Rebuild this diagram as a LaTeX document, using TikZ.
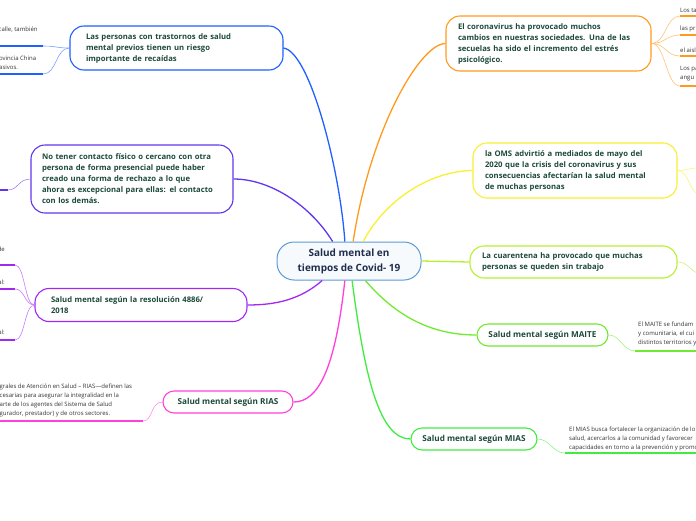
\documentclass[tikz,border=0pt]{standalone}
\usepackage{fontspec}
\setmainfont{Open Sans}
\definecolor{cblue}{HTML}{2060FF}
\definecolor{cindigo}{HTML}{6236EE}
\definecolor{cviolet}{HTML}{A028F0}
\definecolor{cpink}{HTML}{FF40DC}
\definecolor{corange}{HTML}{FF9A1E}
\definecolor{cyellow}{HTML}{F8F030}
\definecolor{clime}{HTML}{B8F030}
\definecolor{cmaite}{HTML}{70EA30}
\definecolor{cmias}{HTML}{40EC40}
\definecolor{cmain}{HTML}{5B9BD5}
\definecolor{ctopic}{HTML}{1C4A3A}
\definecolor{cmaintext}{HTML}{1F2E4C}

\begin{document}
\begin{tikzpicture}[x=1pt,y=-1pt,
  mainbox/.style={draw=cmain,line width=1pt,fill=cmain!5,rounded corners=17pt,
    minimum width=144pt,minimum height=38pt,align=center,text=cmaintext,
    font=\fontsize{10}{15}\selectfont\bfseries},
  topic/.style={draw,line width=1.1pt,fill=white,rounded corners=14pt,
    align=left,text=ctopic,font=\fontsize{7.7}{11}\selectfont\bfseries},
  subtopic/.style={draw,line width=1.1pt,fill=white,rounded corners=11pt,minimum height=22pt,
    align=center,text=ctopic,font=\fontsize{8.2}{11}\selectfont\bfseries},
  leaf/.style={inner sep=0pt,align=left,text=black!80,font=\fontsize{6}{9}\selectfont},
  branch/.style={line width=1.3pt},
  twig/.style={line width=0.6pt},
  leafline/.style={line width=1.6pt}]
\useasboundingbox (0,0) rectangle (696,520);

\node[mainbox] (main) at (349,261) {Salud mental en\\tiempos de Covid- 19};

\node[topic,draw=cblue,text width=181pt,minimum height=44pt,inner xsep=16pt] (previos) at (176.5,48)
  {Las personas con trastornos de salud\\mental previos tienen un riesgo\\importante de recaídas};
\node[topic,draw=cindigo,text width=180pt,minimum height=68pt,inner xsep=11pt] (contacto) at (132,179)
  {No tener contacto físico o cercano con otra\\persona de forma presencial puede haber\\creado una forma de rechazo a lo que\\ahora es excepcional para ellas: el contacto\\con los demás.};
\node[topic,draw=cviolet,text width=180pt,minimum height=33pt,inner xsep=16pt] (resolucion) at (141,305)
  {Salud mental según la resolución 4886/\\2018};
\node[subtopic,draw=cpink,minimum width=130pt] (rias) at (228,402) {Salud mental según RIAS};

\node[topic,draw=corange,text width=181pt,minimum height=55pt,inner xsep=12pt] (estres) at (548.5,43.5)
  {El coronavirus ha provocado muchos\\cambios en nuestras sociedades. Una de las\\secuelas ha sido el incremento del estrés\\psicológico.};
\node[topic,draw=cyellow,text width=180pt,minimum height=55pt,inner xsep=12pt] (oms) at (575,170.5)
  {la OMS advirtió a mediados de mayo del\\2020 que la crisis del coronavirus y sus\\consecuencias afectarían la salud mental\\de muchas personas};
\node[topic,draw=clime,text width=183pt,minimum height=32pt,inner xsep=12pt] (cuarentena) at (573.5,262)
  {La cuarentena ha provocado que muchas\\personas se queden sin trabajo};
\node[subtopic,draw=cmaite,minimum width=131pt] (maite) at (542.5,335) {Salud mental según MAITE};
\node[subtopic,draw=cmias,minimum width=126pt] (mias) at (474,439) {Salud mental según MIAS};

\draw[branch,cblue] (main.102) .. controls (340,170) and (310,52) .. (previos.east);
\draw[branch,cindigo] (main.130) .. controls (310,205) and (270,179) .. (contacto.east);
\draw[branch,cviolet] (main.216) .. controls (300,300) and (275,305) .. (resolucion.east);
\draw[branch,cpink] (main.258) .. controls (335,370) and (318,402) .. (rias.east);
\draw[branch,corange] (main.78) .. controls (370,130) and (420,43.5) .. (estres.west);
\draw[branch,cyellow] (main.54) .. controls (385,200) and (430,171) .. (oms.west);
\draw[branch,clime] (main.east) -- (cuarentena.west);
\draw[branch,cmaite] (main.310) .. controls (395,315) and (430,335) .. (maite.west);
\draw[branch,cmias] (main.279) .. controls (365,380) and (380,439) .. (mias.west);

\coordinate (previosA) at (43,46);
\coordinate (previosB) at (43,74);
\node[leaf,anchor=west] (previosAtxt) at (-1.5,30) {calle, también};
\node[leaf,anchor=west] (previosBtxt) at (-1,62.5) {ovincia China\\asivos.};
\draw[twig,cblue!60] (previos.west) .. controls +(-14,0) and +(14,0) .. (previosA);
\draw[twig,cblue!60] (previos.west) .. controls +(-14,0) and +(14,0) .. (previosB);
\draw[leafline,cblue] (previosA) -- +(-44,0);
\draw[leafline,cblue] (previosB) -- +(-44,0);

\coordinate (contactoA) at (8,190);
\draw[twig,cindigo!60] (contacto.west) .. controls +(-12,0) and +(10,0) .. (contactoA);
\draw[leafline,cindigo] (contactoA) -- +(-9,0);

\coordinate (resolucionA) at (15,265);
\coordinate (resolucionB) at (15,289);
\coordinate (resolucionC) at (15,340);
\node[leaf,anchor=east] (resolucionAtxt) at (5,249) {de};
\node[leaf,anchor=east] (resolucionBtxt) at (5,282) {al:};
\node[leaf,anchor=east] (resolucionCtxt) at (5,332) {al:};
\draw[twig,cviolet!60] (resolucion.west) .. controls +(-10,0) and +(10,0) .. (resolucionA);
\draw[twig,cviolet!60] (resolucion.west) .. controls +(-10,0) and +(10,0) .. (resolucionB);
\draw[twig,cviolet!60] (resolucion.west) .. controls +(-10,0) and +(10,0) .. (resolucionC);
\draw[leafline,cviolet] (resolucionA) -- +(-16,0);
\draw[leafline,cviolet] (resolucionB) -- +(-16,0);
\draw[leafline,cviolet] (resolucionC) -- +(-16,0);

\coordinate (riasA) at (143,421);
\node[leaf,anchor=west] (riastxt) at (-0.5,400.5)
  {grales de Atención en Salud – RIAS—definen las\\cesarias para asegurar la integralidad en la\\arte de los agentes del Sistema de Salud\\gurador, prestador) y de otros sectores.};
\draw[twig,cpink!60] (rias.west) .. controls +(-12,0) and +(10,0) .. (riasA);
\draw[leafline,cpink] (riasA) -- +(-144,0);

\coordinate (estresA) at (680,16);
\coordinate (estresB) at (680,35);
\coordinate (estresC) at (680,56);
\coordinate (estresD) at (680,86);
\node[leaf,anchor=west] (estresAtxt) at (680,10) {Los ta};
\node[leaf,anchor=west] (estresBtxt) at (680,29) {las pr};
\node[leaf,anchor=west] (estresCtxt) at (680,50) {el aisl};
\node[leaf,anchor=west] (estresDtxt) at (680,73.5) {Los pa\\angu};
\draw[twig,corange!60] (estres.east) .. controls +(14,0) and +(-14,0) .. (estresA);
\draw[twig,corange!60] (estres.east) .. controls +(14,0) and +(-14,0) .. (estresB);
\draw[twig,corange!60] (estres.east) .. controls +(14,0) and +(-14,0) .. (estresC);
\draw[twig,corange!60] (estres.east) .. controls +(14,0) and +(-14,0) .. (estresD);
\draw[leafline,corange] (estresA) -- +(17,0);
\draw[leafline,corange] (estresB) -- +(17,0);
\draw[leafline,corange] (estresC) -- +(17,0);
\draw[leafline,corange] (estresD) -- +(17,0);

\coordinate (omsA) at (697,168);
\coordinate (omsB) at (697,194);
\draw[twig,cyellow!70] (oms.east) .. controls +(10,0) and +(-8,0) .. (omsA);
\draw[twig,cyellow!70] (oms.east) .. controls +(10,0) and +(-8,-6) .. (omsB);

\coordinate (cuarentenaA) at (697,273);
\draw[twig,clime!70] (cuarentena.east) .. controls +(10,0) and +(-8,-4) .. (cuarentenaA);

\coordinate (maiteA) at (635,351);
\node[leaf,anchor=west] (maitetxt) at (638,334) {El MAITE se fundam\\y comunitaria, el cui\\distintos territorios y};
\draw[twig,cmaite!60] (maite.east) .. controls +(12,0) and +(-12,0) .. (maiteA);
\draw[leafline,cmaite] (maiteA) -- +(62,0);

\coordinate (miasA) at (565,453);
\node[leaf,anchor=west] (miastxt) at (569,438.5)
  {El MIAS busca fortalecer la organización de lo\\salud, acercarlos a la comunidad y favorecer\\capacidades en torno a la prevención y promo};
\draw[twig,cmias!60] (mias.east) .. controls +(12,0) and +(-12,0) .. (miasA);
\draw[leafline,cmias] (miasA) -- +(132,0);
\end{tikzpicture}
\end{document}
